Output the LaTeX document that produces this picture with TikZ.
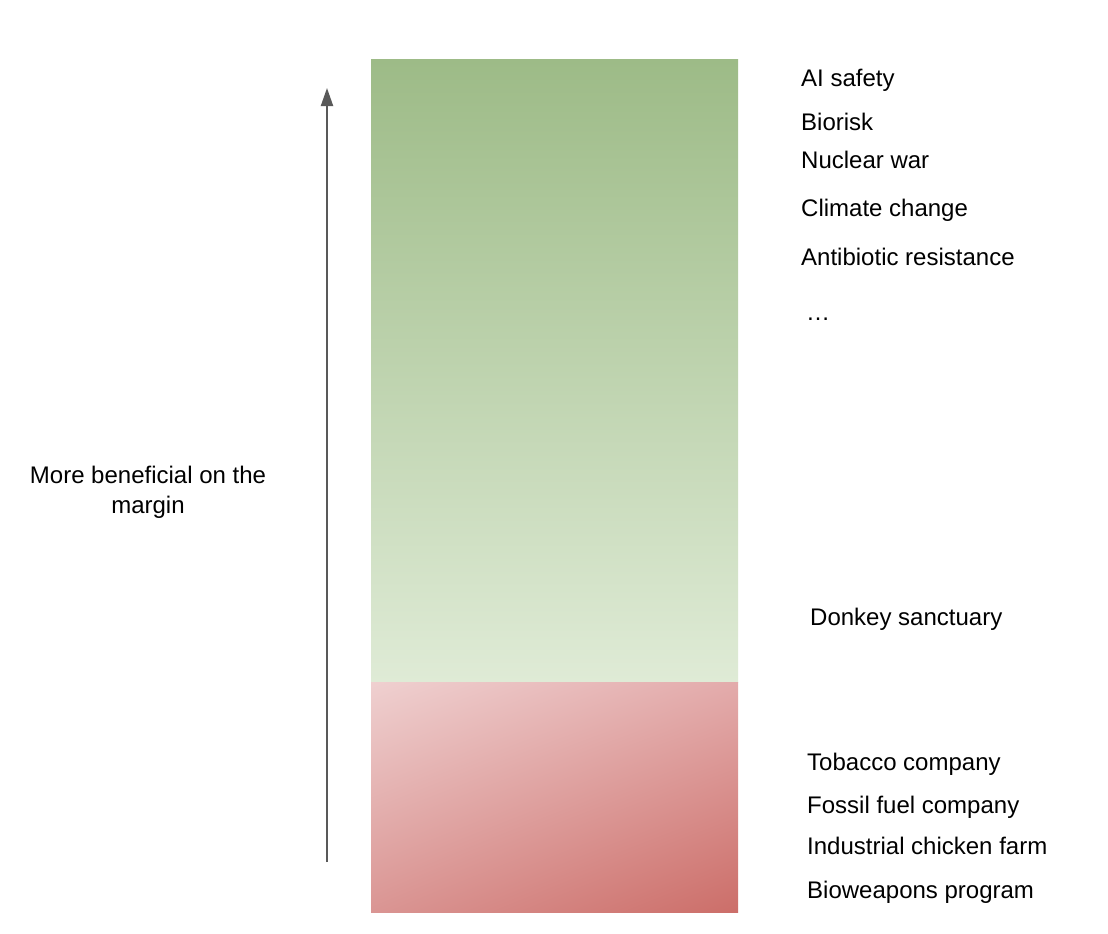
\documentclass[tikz,border=0pt]{standalone}
\usepackage{fontspec}
\setmainfont{Liberation Sans}
\usetikzlibrary{arrows.meta,shadings}
\definecolor{gtop}{HTML}{9DBB87}
\definecolor{gbot}{HTML}{DFEBD6}
\definecolor{rtl}{HTML}{EFD0D0}
\definecolor{rtr}{HTML}{E3ABAB}
\definecolor{rbl}{HTML}{DA9593}
\definecolor{rbr}{HTML}{CC6E69}
\definecolor{arrowgray}{HTML}{595959}
\begin{document}
\begin{tikzpicture}[x=1pt,y=-1pt,
  lbl/.style={anchor=base west, inner sep=0pt, font=\fontsize{24}{30}\selectfont},
  sidelbl/.style={anchor=base, inner sep=0pt, align=center, font=\fontsize{24}{30}\selectfont},
  axisarrow/.style={draw=arrowgray, line width=2pt, -{Triangle[length=18pt,width=12pt]}}]
\useasboundingbox (0,0) rectangle (1108,934);
\fill[white] (0,0) rectangle (1108,934);
% bars
\shade[top color=gtop, bottom color=gbot] (371,60) rectangle (738,682);
\shade[upper left=rtl, upper right=rtr, lower left=rbl, lower right=rbr] (371,682) rectangle (738,912);
% axis arrow
\coordinate (abot) at (327,862);
\coordinate (atop) at (327,88);
\draw[axisarrow] (abot) -- (atop);
% side label
\node[sidelbl] (side) at (148,513.5) {More beneficial on the\\margin};
% labels
\node[lbl] (ai) at (801,86.5) {AI safety};
\node[lbl] (bio) at (801,130.5) {Biorisk};
\node[lbl] (nuc) at (801,168.5) {Nuclear war};
\node[lbl] (clim) at (801,216.5) {Climate change};
\node[lbl] (anti) at (801,265.5) {Antibiotic resistance};
\node[lbl] (dots) at (806,320) {\dots};
\node[lbl] (donkey) at (810,625.5) {Donkey sanctuary};
\node[lbl] (tob) at (807,770.5) {Tobacco company};
\node[lbl] (fossil) at (807,813.5) {Fossil fuel company};
\node[lbl] (chick) at (807,854.5) {Industrial chicken farm};
\node[lbl] (bioweap) at (807,898.5) {Bioweapons program};
\end{tikzpicture}
\end{document}
